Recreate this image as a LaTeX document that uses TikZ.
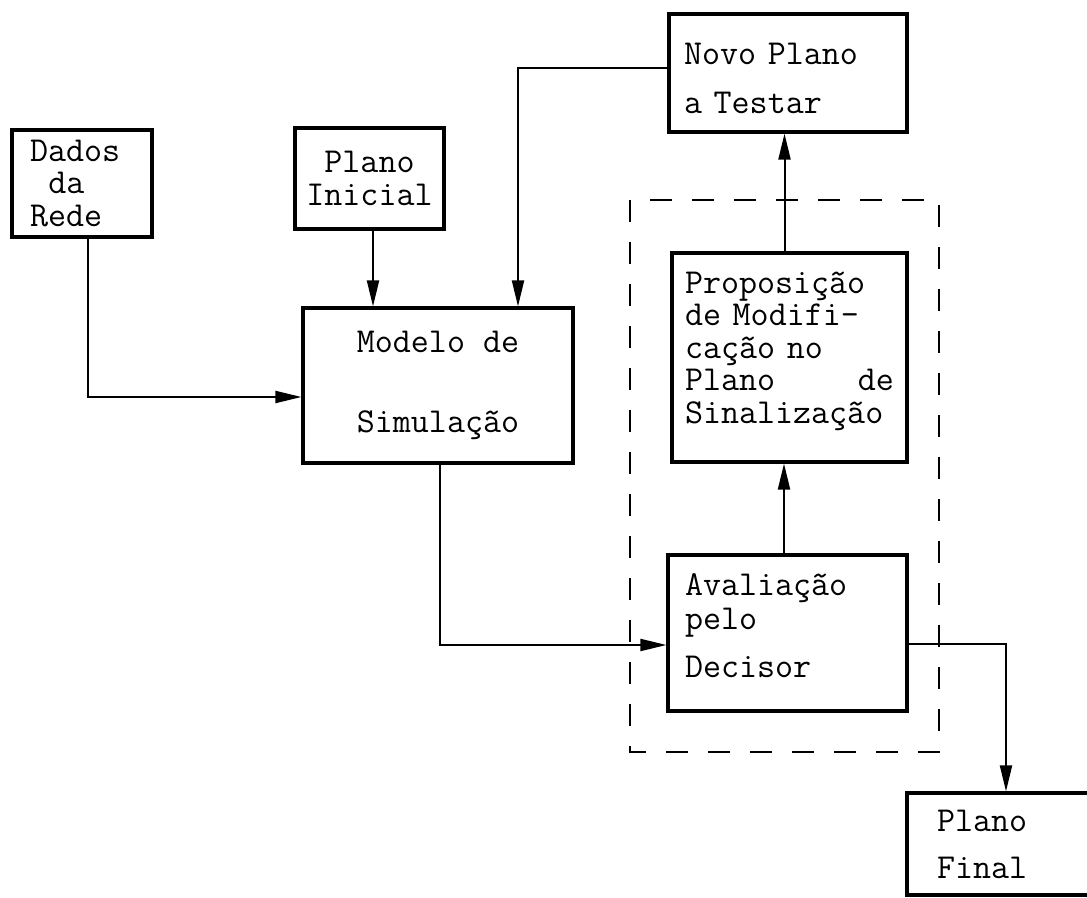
\documentclass[tikz,border=0pt]{standalone}
\usepackage{fontspec}
\usetikzlibrary{arrows.meta}
\tikzset{
    plain-box/.style = {draw, line width=1.6pt, rectangle, align=left, inner ysep=4pt, font=\ttfamily\fontsize{17.5}{16.25}\selectfont},
    group-box/.style = {draw, line width=1.2pt, dash pattern=on 11pt off 10pt},
    flow-arrow/.style = {line width=1pt, -{Triangle[length=13pt, width=6pt]}},
}

\begin{document}
\begin{tikzpicture}[x=0.5pt, y=-0.5pt]
\useasboundingbox (0,0) rectangle (1087,898);
\clip (0,0) rectangle (1087,898);
\draw[group-box] (630,200) rectangle (939,752);
\node[plain-box, text width=52pt, inner xsep=9pt, minimum height=53.5pt] (dados) at (82,183.5) {Dados\\\hspace*{0.525em}da\\Rede};
\node[plain-box, align=center, minimum width=74.5pt, minimum height=50.5pt] (inicial) at (369.5,178.5) {Plano\\Inicial};
\node[plain-box, text width=104pt, inner xsep=7.5pt, minimum height=59pt] (novo) at (788,73) {\rule{0pt}{16pt}Novo Plano\\[8.25pt]a Testar};
\node[plain-box, minimum width=135pt, minimum height=77.5pt] (modelo) at (438,385.5) {Modelo de\\[23.75pt]Simulação};
\node[plain-box, text width=104.5pt, inner xsep=6.5pt, minimum height=104.5pt] (proposta) at (789.5,357.5) {Proposição\\de Modifi-\\cação no\\Plano\hfill de\\Sinalização\rule[-10pt]{0pt}{10pt}};
\node[plain-box, text width=102.5pt, inner xsep=8.5pt, minimum height=78pt] (avaliacao) at (787.5,633) {Avaliação\\[0.75pt]pelo\\[7.75pt]Decisor\rule[-7pt]{0pt}{7pt}};
\node[plain-box, text width=120pt, inner xsep=15pt, minimum height=51pt] (final) at (1057,844) {Plano\\[7.25pt]Final};

\draw[flow-arrow] ([xshift=3pt]dados.south) |- ([yshift=-5.75pt]modelo.west);
\draw[flow-arrow] ([xshift=1.75pt]inicial.south) -- ([xshift=1.75pt]inicial.south |- modelo.north);
\draw[flow-arrow] ([yshift=2.5pt]novo.west) -| ([xshift=40pt]modelo.north);
\draw[flow-arrow] ([xshift=1pt]modelo.south) |- ([yshift=-6pt]avaliacao.west);
\draw[flow-arrow] ([xshift=-1.75pt]avaliacao.north) -- ([xshift=-1.75pt]avaliacao.north |- proposta.south);
\draw[flow-arrow] ([xshift=-2.5pt]proposta.north) -- ([xshift=-2.5pt]proposta.north |- novo.south);
\draw[flow-arrow] ([yshift=-5.5pt]avaliacao.east) -| ([xshift=-25.5pt]final.north);
\end{tikzpicture}
\end{document}
